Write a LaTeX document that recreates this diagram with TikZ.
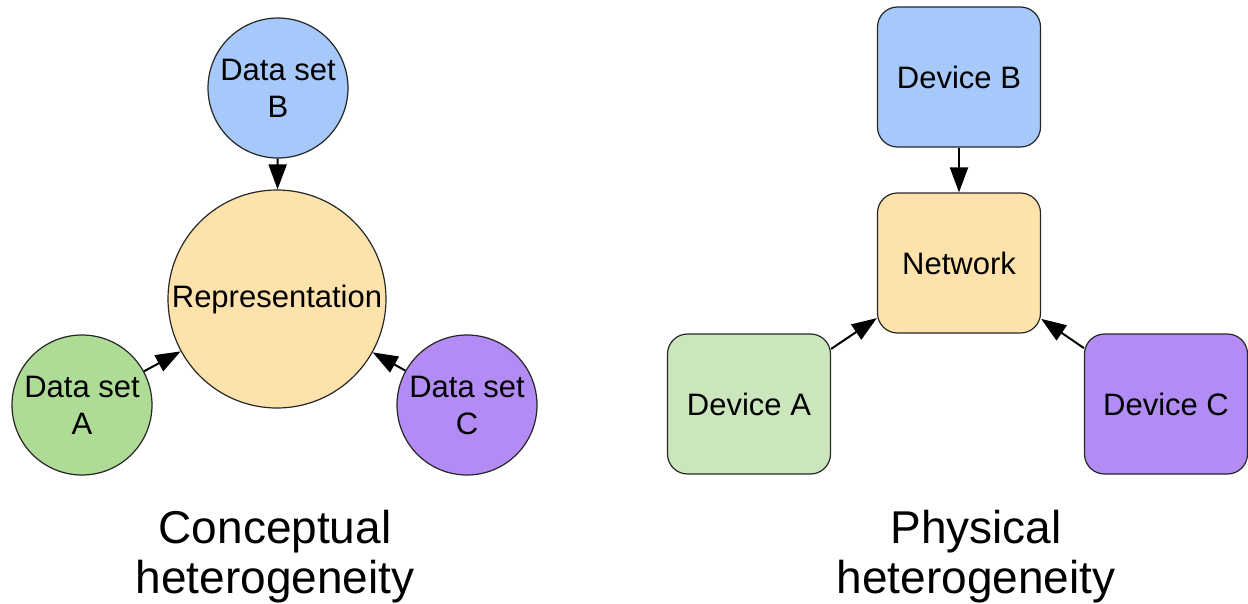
\documentclass[tikz,border=0pt]{standalone}
\usepackage{fontspec}
\setmainfont{Liberation Sans}
\usetikzlibrary{arrows.meta}
\definecolor{cblue}{HTML}{A6C8FA}
\definecolor{corange}{HTML}{FEE2AC}
\definecolor{cgreenA}{HTML}{AEDC96}
\definecolor{cgreenB}{HTML}{CBE6BC}
\definecolor{cpurple}{HTML}{B28CF4}
\begin{document}
\begin{tikzpicture}[x=1pt,y=-1pt,
  ds/.style={circle,draw=black!85,line width=1.2pt,inner sep=0pt,minimum size=140pt,align=center,font=\fontsize{31}{37}\selectfont},
  dev/.style={rectangle,rounded corners=20pt,draw=black!85,line width=1.2pt,minimum width=163pt,minimum height=140pt,inner sep=0pt,font=\fontsize{31}{37}\selectfont},
  link/.style={line width=2pt,-{Triangle[length=25pt,width=18pt]}},
  caption/.style={align=center,font=\fontsize{46}{50}\selectfont}]
\useasboundingbox (0,0) rectangle (1248,603);
% left: conceptual
\node[ds,fill=corange,minimum size=218pt] (rep) at (277,299) {Representation};
\node[ds,fill=cblue] (dsB) at (278,88) {Data set\\B};
\node[ds,fill=cgreenA] (dsA) at (82,405) {Data set\\A};
\node[ds,fill=cpurple] (dsC) at (467,405) {Data set\\C};
\draw[link] (dsB) -- (rep);
\draw[link] (dsA) -- (rep);
\draw[link] (dsC) -- (rep);
% right: physical
\node[dev,fill=cblue] (devB) at (959,77) {Device B};
\node[dev,fill=corange] (net) at (959,263) {Network};
\node[dev,fill=cgreenB] (devA) at (749,404) {Device A};
\node[dev,fill=cpurple] (devC) at (1166,404) {Device C};
\draw[link] (devB) -- (net);
\draw[link] (devA) -- (net);
\draw[link] (devC) -- (net);
% captions
\node[caption,anchor=base] (capL) at (275,593) {Conceptual\\heterogeneity};
\node[caption,anchor=base] (capR) at (976,593) {Physical\\heterogeneity};
\end{tikzpicture}
\end{document}
